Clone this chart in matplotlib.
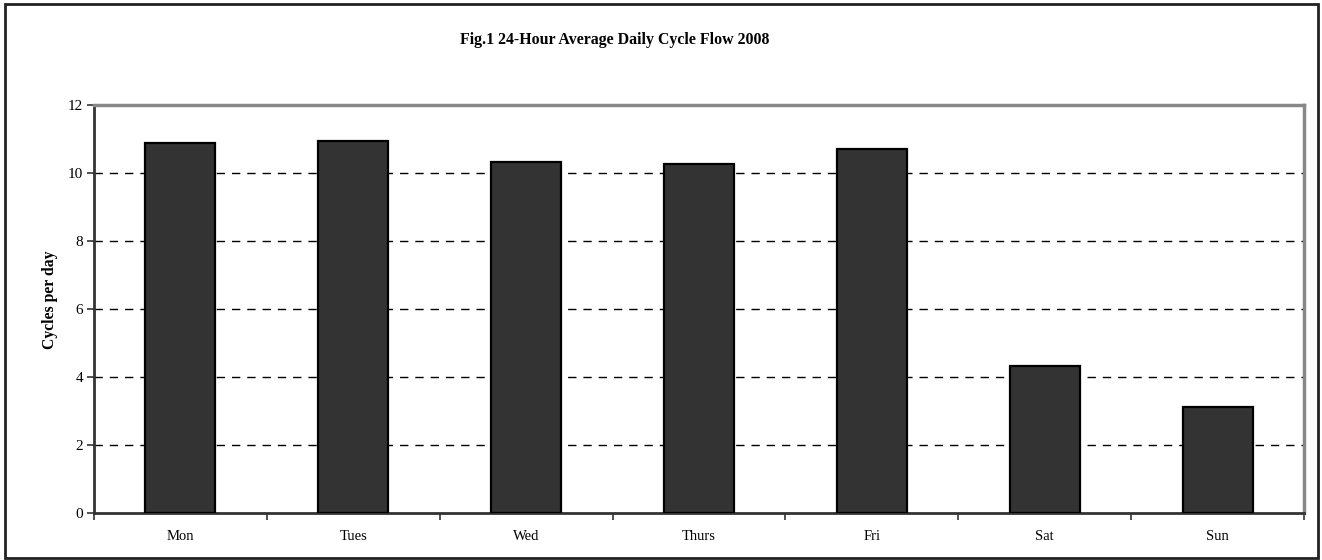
import matplotlib.pyplot as plt
import matplotlib.patches as patches
import numpy as np

days = ['Mon', 'Tues', 'Wed', 'Thurs', 'Fri', 'Sat', 'Sun']
cycles = [10.89, 10.93, 10.31, 10.26, 10.71, 4.32, 3.11]
y_ticks = [0, 2, 4, 6, 8, 10, 12]

plt.rcParams['font.family'] = ['Liberation Serif', 'DejaVu Serif']

W, H = 1322, 560
fig = plt.figure(figsize=(W / 100, H / 100), dpi=100)
ax = fig.add_axes([94 / W, 1 - 513 / H, (1304 - 94) / W, (513 - 105) / H])

x = np.arange(len(days))
ax.bar(x, cycles, width=0.405, color='#333333', edgecolor='black',
       linewidth=1.6, zorder=3)

ax.set_xlim(-0.5, len(days) - 0.5)
ax.set_ylim(0, 12)
ax.set_yticks(y_ticks)
ax.set_yticklabels([str(v) for v in y_ticks], fontsize=11)

# category ticks sit on the boundaries, labels in the middle
ax.set_xticks(np.arange(-0.5, len(days), 1.0))
ax.set_xticklabels([])
ax.set_xticks(x, minor=True)
ax.set_xticklabels(days, minor=True, fontsize=10.5)
ax.tick_params(axis='x', which='minor', length=0, pad=12)
ax.tick_params(axis='x', which='major', direction='out', length=5,
               width=1.2, color='#333333')
ax.tick_params(axis='y', direction='out', length=5, width=1.2,
               color='#333333', pad=3)

for v in y_ticks[1:-1]:
    ax.axhline(v, color='black', linestyle=(0, (6, 5)), linewidth=1.0, zorder=1)

for side in ['left', 'bottom']:
    ax.spines[side].set_color('#333333')
    ax.spines[side].set_linewidth(2)
for side in ['top', 'right']:
    ax.spines[side].set_color('#888888')
    ax.spines[side].set_linewidth(2.5)

fig.text(50 / W, 1 - 300 / H, 'Cycles per day', rotation=90, fontsize=11.3,
         fontweight='bold', ha='center', va='center')
fig.text(615 / W, 1 - 40 / H, 'Fig.1 24-Hour Average Daily Cycle Flow 2008',
         fontsize=11.4, fontweight='bold', ha='center', va='center')

border = patches.Rectangle((5 / W, 2 / H), (1318 - 5) / W, (556 - 2) / H,
                           transform=fig.transFigure, fill=False,
                           edgecolor='#222222', linewidth=2)
fig.patches.append(border)

fig.savefig('out.png', dpi=100)
